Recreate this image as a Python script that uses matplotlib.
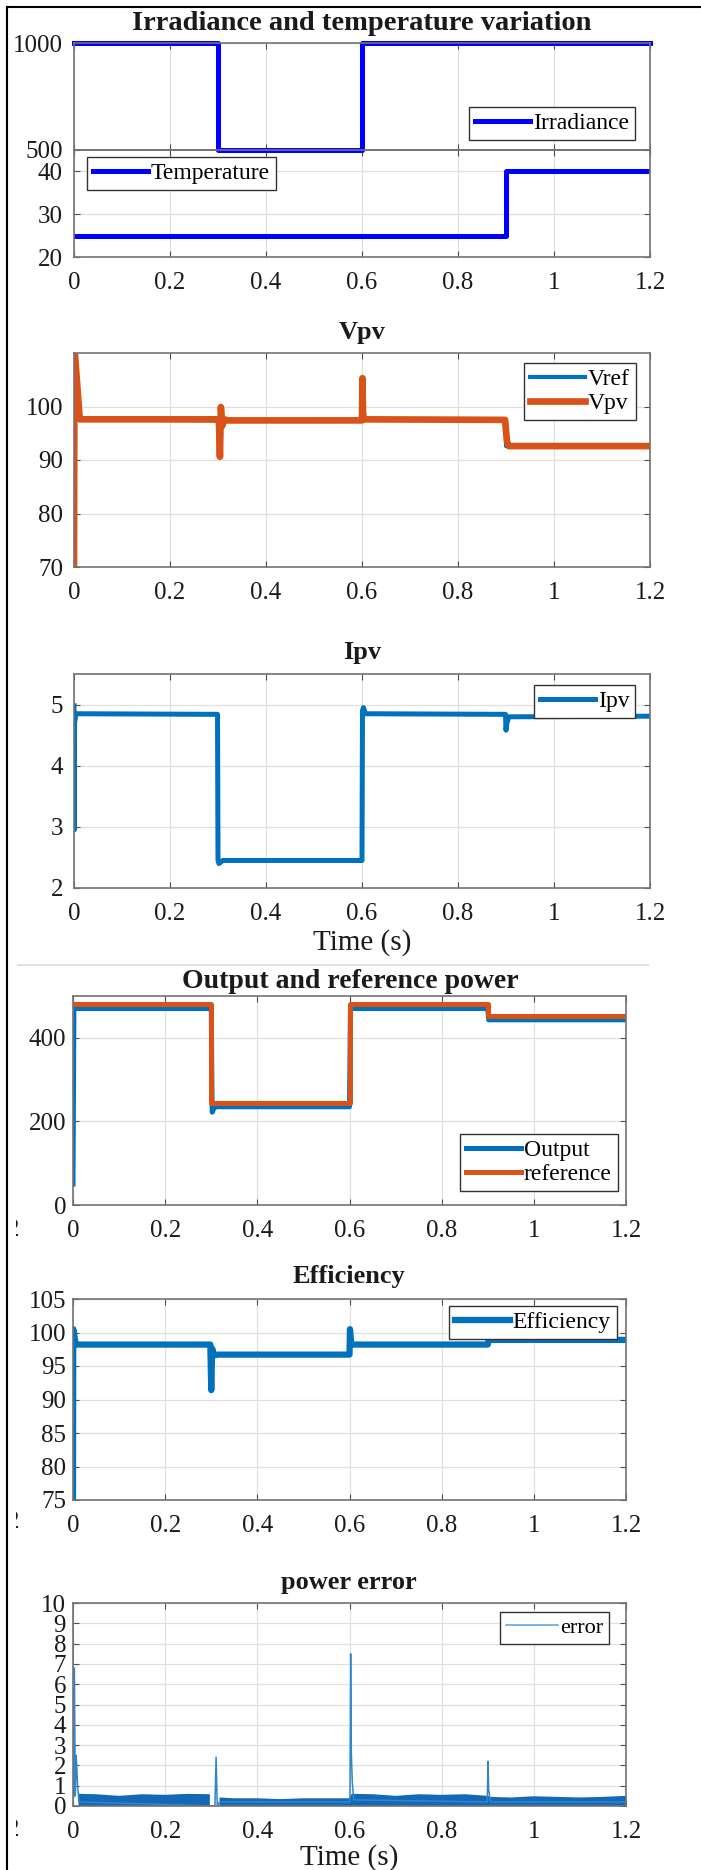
"""
plot.py — MPPT simulation summary: irradiance/temperature profile, PV voltage,
PV current, output power, efficiency and power error, stacked MATLAB-style.
"""

import matplotlib
matplotlib.use("Agg")  # Non-interactive backend
import matplotlib.pyplot as plt
import numpy as np
from matplotlib.lines import Line2D
from matplotlib.transforms import Bbox


# ── Data ─────────────────────────────────────────────────────────────────────

X_TICKS = [0.0, 0.2, 0.4, 0.6, 0.8, 1.0, 1.2]
X_TICK_LABELS = ["0", "0.2", "0.4", "0.6", "0.8", "1", "1.2"]

T_IRR = [0.0, 0.3, 0.3, 0.6, 0.6, 1.2]
IRRADIANCE = [1000, 1000, 500, 500, 1000, 1000]

T_TEMP = [0.0, 0.9, 0.9, 1.2]
TEMPERATURE = [25, 25, 40, 40]

T_VREF = [0.0, 0.3, 0.6, 0.9, 0.9, 1.2]
VREF = [97.6, 97.4, 97.5, 97.5, 92.6, 92.6]

T_VPV = [0.0, 0.001, 0.012, 0.3, 0.302, 0.304, 0.306, 0.309, 0.313, 0.32,
         0.6, 0.601, 0.602, 0.604, 0.898, 0.902, 0.906, 1.2]
VPV = [70.0, 111.0, 97.6, 97.6, 97.3, 90.6, 99.9, 96.4, 97.6, 97.4,
       97.4, 105.3, 99.0, 97.6, 97.5, 93.5, 92.6, 92.6]

T_IPV = [0.0, 0.0006, 0.0012, 0.004, 0.299, 0.3, 0.302, 0.31,
         0.6, 0.601, 0.603, 0.607, 0.899, 0.9, 0.902, 0.906, 1.2]
IPV = [4.98, 2.95, 4.70, 4.85, 4.84, 2.45, 2.40, 2.45,
       2.45, 4.90, 4.95, 4.85, 4.84, 4.58, 4.70, 4.80, 4.81]

T_POUT = [0.0, 0.002, 0.3, 0.302, 0.306, 0.31, 0.6, 0.602, 0.9, 0.902, 1.2]
P_OUT = [50, 470, 470, 222, 232, 235, 235, 470, 470, 443, 443]

T_PREF = [0.0, 0.3, 0.3, 0.6, 0.6, 0.9, 0.9, 1.2]
P_REF = [480, 480, 245, 245, 480, 480, 452, 452]

T_EFF = [0.0, 0.0005, 0.006, 0.298, 0.3, 0.302, 0.306, 0.315,
         0.6, 0.601, 0.604, 0.9, 0.902, 1.2]
EFFICIENCY = [75.0, 100.5, 98.2, 98.2, 91.4, 97.6, 96.6, 96.7,
              96.7, 100.5, 98.2, 98.2, 98.9, 98.9]

T_ERR = [0.0, 0.001, 0.003, 0.005, 0.007, 0.010, 0.013, 0.308, 0.3105,
         0.313, 0.318, 0.601, 0.6025, 0.604, 0.606, 0.609, 0.899, 0.9005,
         0.902, 0.906, 1.2]
ERROR = [10.5, 0.4, 6.8, 0.5, 2.5, 1.0, 0.2, 0.0, 2.4,
         0.0, 0.2, 0.2, 7.5, 2.6, 1.2, 0.3, 0.2, 2.2,
         0.8, 0.2, 0.2]

# ripple envelope of the error trace (NaN = gap after the 0.3 s step)
T_ERR_BAND = [0.012, 0.05, 0.1, 0.15, 0.2, 0.25, 0.297, 0.30,
              0.318, 0.35, 0.4, 0.45, 0.5, 0.55, 0.6,
              0.605, 0.65, 0.7, 0.75, 0.8, 0.85, 0.9,
              0.905, 0.95, 1.0, 1.05, 1.1, 1.15, 1.2]
ERR_BAND_HI = [0.6, 0.58, 0.5, 0.58, 0.55, 0.6, 0.58, np.nan,
               0.42, 0.38, 0.38, 0.34, 0.38, 0.38, 0.38,
               0.6, 0.58, 0.5, 0.58, 0.55, 0.58, 0.5,
               0.45, 0.42, 0.48, 0.45, 0.42, 0.45, 0.5]


# ── Style ────────────────────────────────────────────────────────────────────

W, H = 701, 1870
SERIF = ["Liberation Serif", "DejaVu Serif"]
BLUE = "#0072BD"
ORANGE = "#D95319"
PURE_BLUE = "#0000FF"
TEXT = "#1a1a1a"

plt.rcParams["font.family"] = SERIF


def fx(px: float) -> float:
    return px / W


def fy(py: float) -> float:
    return 1 - py / H


def axes_at(fig, left, top, right, bottom):
    """Add axes from pixel edges measured from the top-left corner."""
    return fig.add_axes([fx(left), fy(bottom), (right - left) / W, (bottom - top) / H])


def style_axes(ax, ylim, yticks, xlabels=True, ypad=8):
    ax.set_xlim(0, 1.2)
    ax.set_ylim(*ylim)
    ax.set_xticks(X_TICKS)
    ax.set_xticklabels(X_TICK_LABELS if xlabels else [])
    ax.set_yticks(yticks)
    ax.set_yticklabels([str(v) for v in yticks])
    ax.grid(True, color="0.88", linewidth=0.9)
    ax.set_axisbelow(True)
    ax.tick_params(direction="in", length=4, width=0.8, color="0.3",
                   top=True, right=True, labelsize=18, labelcolor=TEXT)
    ax.tick_params(axis="x", pad=11)
    ax.tick_params(axis="y", pad=ypad)
    for spine in ax.spines.values():
        spine.set_color("0.45")
        spine.set_linewidth(1.2)


def add_legend(ax, fig, left, top, fontsize=17):
    leg = ax.legend(loc="upper left", bbox_to_anchor=(fx(left), fy(top)),
                    bbox_transform=fig.transFigure, borderaxespad=0,
                    fontsize=fontsize, handlelength=2.35, handletextpad=0.1,
                    borderpad=0.25, labelspacing=0.1, fancybox=False,
                    framealpha=1, edgecolor="0.2")
    leg.get_frame().set_linewidth(1.0)
    return leg


def title_at(fig, text, x, y, size=19):
    fig.text(fx(x), fy(y), text, ha="center", va="center", fontsize=size,
             fontweight="bold", color=TEXT)


# ── Figure ───────────────────────────────────────────────────────────────────

fig = plt.figure(figsize=(W / 100, H / 100), dpi=100)

# Panel 1: irradiance on top, temperature below, sharing one frame edge
ax_irr = axes_at(fig, 74, 43, 650, 150)
ax_tmp = axes_at(fig, 74, 150, 650, 257)
ax_irr.set_zorder(2)          # keep the 500 W/m² trace above the lower frame
ax_irr.patch.set_alpha(0)

# trace sits on the frame edges, so let it spill over instead of half-clipping
ax_irr.plot(T_IRR, IRRADIANCE, color=PURE_BLUE, lw=3.6, label="Irradiance", clip_on=False)
style_axes(ax_irr, (500, 1000), [500, 1000], xlabels=False)
add_legend(ax_irr, fig, 469, 107)

ax_tmp.plot(T_TEMP, TEMPERATURE, color=PURE_BLUE, lw=3.6, label="Temperature")
style_axes(ax_tmp, (20, 45), [20, 30, 40])
add_legend(ax_tmp, fig, 87, 157)
title_at(fig, "Irradiance and temperature variation", 362, 23, size=20.5)

# Panel 2: PV voltage
ax_v = axes_at(fig, 74, 353, 650, 567)
ax_v.plot(T_VREF, VREF, color=BLUE, lw=3.0, label="Vref")
ax_v.plot(T_VPV, VPV, color=ORANGE, lw=4.8, label="Vpv", solid_joinstyle="round")
style_axes(ax_v, (70, 110), [70, 80, 90, 100])
add_legend(ax_v, fig, 524, 363)
title_at(fig, "Vpv", 362, 332)

# Panel 3: PV current
ax_i = axes_at(fig, 74, 674, 650, 888)
ax_i.plot(T_IPV, IPV, color=BLUE, lw=3.6, label="Ipv")
style_axes(ax_i, (2, 5.5), [2, 3, 4, 5])
add_legend(ax_i, fig, 534, 685)
title_at(fig, "Ipv", 362, 652)
fig.text(fx(362), fy(943), "Time (s)", ha="center", va="center", fontsize=21, color=TEXT)

# faint separator between the two pasted screenshots
fig.add_artist(Line2D([fx(18), fx(648)], [fy(965), fy(965)], color="0.85", lw=1.2))

# Panel 4: output vs reference power
ax_p = axes_at(fig, 73, 996, 626, 1205)
ax_p.plot(T_POUT, P_OUT, color=BLUE, lw=3.6, label="Output")
ax_p.plot(T_PREF, P_REF, color=ORANGE, lw=3.6, label="reference")
style_axes(ax_p, (0, 500), [0, 200, 400], ypad=5)
add_legend(ax_p, fig, 460, 1134)
title_at(fig, "Output and reference power", 350, 982, size=20)

# Panel 5: efficiency
ax_e = axes_at(fig, 73, 1299, 626, 1500)
ax_e.plot(T_EFF, EFFICIENCY, color=BLUE, lw=4.5, label="Efficiency")
style_axes(ax_e, (75, 105), [75, 80, 85, 90, 95, 100, 105], ypad=5)
add_legend(ax_e, fig, 449, 1306)
title_at(fig, "Efficiency", 349, 1277)

# Panel 6: power error
ax_err = axes_at(fig, 73, 1603, 626, 1806)
ax_err.fill_between(T_ERR_BAND, 0, ERR_BAND_HI, color="#1368b8", lw=0)
ax_err.plot(T_ERR, ERROR, color="#2f86cc", lw=1.1, label="error")
style_axes(ax_err, (0, 10), list(range(11)), ypad=5)
leg = add_legend(ax_err, fig, 500, 1612, fontsize=16)
leg.get_lines()[0].set_color("#5a9fd6")
title_at(fig, "power error", 349, 1583)
fig.text(fx(349), fy(1858), "Time (s)", ha="center", va="center", fontsize=21, color=TEXT)

# cut-off "2" left over from the neighbouring crop
for y in [1230, 1522, 1830]:
    stray = fig.text(fx(13), fy(y), "2", ha="center", va="center", fontsize=18, color=TEXT)
    stray.set_clip_box(Bbox.from_extents(16, H - y - 20, 40, H - y + 20))
    stray.set_clip_on(True)

# outer frame: only the top and left edges survive the crop
fig.add_artist(Line2D([fx(7), 1], [fy(7), fy(7)], color="black", lw=1.5))
fig.add_artist(Line2D([fx(7), fx(7)], [fy(7), 0], color="black", lw=1.5))

fig.savefig("out.png", dpi=100)
plt.close(fig)
